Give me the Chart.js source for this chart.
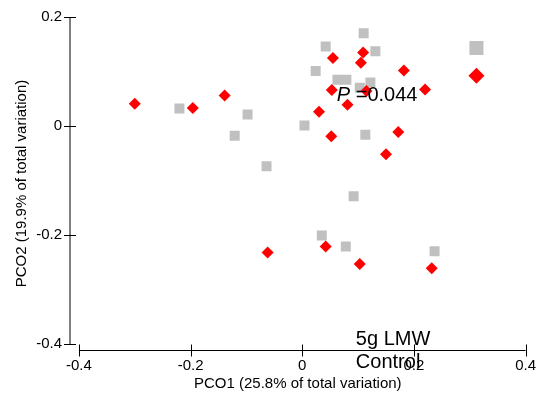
<!DOCTYPE html>
<html>
<head>
<meta charset="utf-8">
<script src="https://cdn.jsdelivr.net/npm/chart.js@4/dist/chart.umd.min.js"></script>
<style>
  body { margin: 0; background: #fff; }
  canvas { display: block; }
</style>
</head>
<body>
<canvas id="pco" width="543" height="398"></canvas>
<script>
// 5g LMW samples (red diamonds)
var lmwX = [-0.300, -0.196, -0.139, 0.055, 0.109, 0.105, 0.182, 0.053, 0.115, 0.081,
            0.030, 0.052, 0.172, 0.220, 0.150, -0.062, 0.042, 0.103, 0.232]
var lmwY = [0.041, 0.033, 0.056, 0.125, 0.135, 0.116, 0.102, 0.066, 0.064, 0.039,
            0.026, -0.019, -0.011, 0.067, -0.052, -0.232, -0.221, -0.253, -0.261]
// Control samples (grey squares)
var ctrlX = [-0.220, -0.098, -0.121, -0.064, 0.110, 0.042, 0.131, 0.024, 0.063, 0.079,
             0.122, 0.103, 0.004, 0.113, 0.092, 0.035, 0.078, 0.237]
var ctrlY = [0.032, 0.021, -0.018, -0.074, 0.170, 0.146, 0.137, 0.101, 0.085, 0.085,
             0.080, 0.070, 0.001, -0.016, -0.129, -0.201, -0.221, -0.230]
// group centroids
var lmwCentre = [0.312, 0.092]
var ctrlCentre = [0.312, 0.143]

var xTicks = [-0.4, -0.2, 0, 0.2, 0.4]
var yTicks = [-0.4, -0.2, 0, 0.2]

var font = "'Liberation Sans', Arial, sans-serif"

function toPoints(xs, ys) {
  return xs.map(function(x, i) { return {x: x, y: ys[i]} })
}

// axis lines that stop at the end ticks, with ticks crossing the line
var axisLines = {
  id: 'axisLines',
  afterDraw: function(chart) {
    var c = chart.ctx, xs = chart.scales.x, ys = chart.scales.y
    var left = chart.chartArea.left, bottom = Math.round(chart.chartArea.bottom) + 0.5
    c.save()
    c.strokeStyle = '#000'
    c.lineWidth = 1
    c.beginPath()
    c.moveTo(left, ys.getPixelForValue(yTicks[yTicks.length - 1]))
    c.lineTo(left, ys.getPixelForValue(yTicks[0]))
    yTicks.forEach(function(v) {
      var y = Math.round(ys.getPixelForValue(v)) + 0.5
      c.moveTo(left - 6, y)
      c.lineTo(left + 6, y)
    })
    c.moveTo(xs.getPixelForValue(xTicks[0]), bottom)
    c.lineTo(xs.getPixelForValue(xTicks[xTicks.length - 1]), bottom)
    xTicks.forEach(function(v) {
      var x = Math.round(xs.getPixelForValue(v)) + 0.5
      c.moveTo(x, bottom - 6)
      c.lineTo(x, bottom + 6)
    })
    c.stroke()

    // annotation text
    c.fillStyle = '#000'
    c.textBaseline = 'alphabetic'
    c.textAlign = 'left'
    var px = xs.getPixelForValue(0.062), py = ys.getPixelForValue(0.0467)
    c.font = 'italic 20px ' + font
    c.fillText('P', px, py)
    var w = c.measureText('P').width
    c.font = '20px ' + font
    c.fillText(' =0.044', px + w, py)
    var lx = xs.getPixelForValue(0.096)
    c.fillText('5g LMW', lx, ys.getPixelForValue(-0.4018))
    c.fillText('Control', lx, ys.getPixelForValue(-0.4436))
    c.restore()
  }
}

var ctx = document.getElementById('pco').getContext('2d')
var chart = new Chart(ctx, {
  type: 'scatter',
  data: {
    datasets: [
      {
        label: '5g LMW',
        data: toPoints(lmwX, lmwY),
        pointStyle: 'rectRot',
        pointRadius: 6,
        pointBorderWidth: 0,
        backgroundColor: '#ff0000',
        borderColor: '#ff0000'
      },
      {
        label: '5g LMW centroid',
        data: [{x: lmwCentre[0], y: lmwCentre[1]}],
        pointStyle: 'rectRot',
        pointRadius: 8,
        pointBorderWidth: 0,
        backgroundColor: '#ff0000',
        borderColor: '#ff0000'
      },
      {
        label: 'Control',
        data: toPoints(ctrlX, ctrlY),
        pointStyle: 'rect',
        pointRadius: 7.07,
        pointBorderWidth: 0,
        backgroundColor: '#c0c0c0',
        borderColor: '#c0c0c0'
      },
      {
        label: 'Control centroid',
        data: [{x: ctrlCentre[0], y: ctrlCentre[1]}],
        pointStyle: 'rect',
        pointRadius: 9.9,
        pointBorderWidth: 0,
        backgroundColor: '#c0c0c0',
        borderColor: '#c0c0c0'
      }
    ]
  },
  options: {
    responsive: false,
    animation: false,
    events: [],
    layout: { padding: { top: 14, right: 17, left: 0, bottom: 0 } },
    plugins: { legend: { display: false }, tooltip: { enabled: false } },
    scales: {
      x: {
        type: 'linear',
        min: -0.416,
        max: 0.4,
        afterBuildTicks: function(s) { s.ticks = xTicks.map(function(v) { return {value: v} }) },
        afterFit: function(s) { s.height = 48 },
        grid: { display: false, drawTicks: false },
        border: { display: false },
        ticks: {
          padding: 7,
          color: '#000',
          font: { family: font, size: 15 },
          maxRotation: 0,
          callback: function(v) { return String(v) }
        },
        title: {
          display: true,
          text: 'PCO1 (25.8% of total variation)',
          color: '#000',
          font: { family: font, size: 15 },
          padding: { top: 0, bottom: 5 }
        }
      },
      y: {
        type: 'linear',
        min: -0.411,
        max: 0.2,
        afterBuildTicks: function(s) { s.ticks = yTicks.map(function(v) { return {value: v} }) },
        afterFit: function(s) { s.width = 70 },
        grid: { display: false, drawTicks: false },
        border: { display: false },
        ticks: {
          padding: 8,
          color: '#000',
          font: { family: font, size: 15 },
          callback: function(v) { return String(v) }
        },
        title: {
          display: true,
          text: 'PCO2 (19.9% of total variation)',
          color: '#000',
          font: { family: font, size: 15 },
          padding: { top: 13, bottom: 0 }
        }
      }
    }
  },
  plugins: [axisLines]
})
</script>
</body>
</html>
